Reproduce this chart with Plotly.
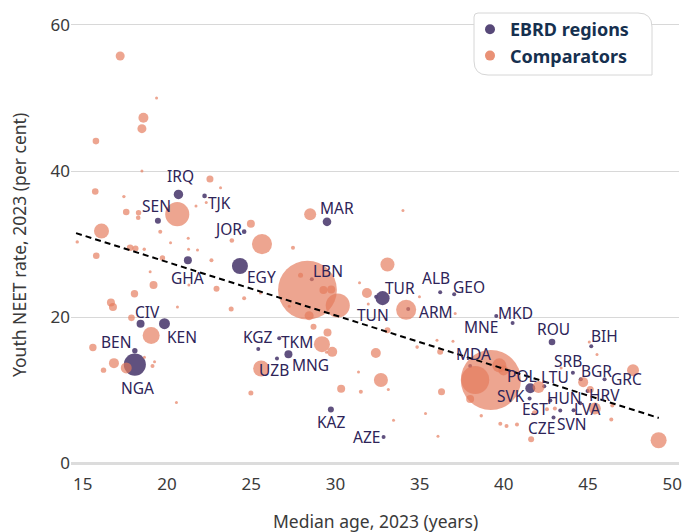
import plotly.graph_objects as go

# ---------------- data ----------------
ebrd_codes = ["IRQ", "TJK", "SEN", "JOR", "GHA", "EGY", "MAR", "LBN", "TUR", "TUN",
              "ALB", "GEO", "ARM", "MKD", "MNE", "ROU", "BIH", "MDA", "SRB", "BGR",
              "GRC", "POL", "LTU", "SVK", "EST", "CZE", "SVN", "HUN", "LVA", "HRV",
              "KGZ", "UZB", "MNG", "TKM", "KAZ", "AZE", "NGA", "BEN", "CIV", "KEN"]
ebrd_age = [20.68, 22.23, 19.46, 24.58, 21.24, 24.33, 29.5, 28.6, 32.8, 32.42,
            36.22, 37.05, 34.32, 40.52, 39.55, 42.86, 45.19, 38.0, 44.1, 44.57,
            45.98, 41.57, 42.4, 41.53, 42.76, 42.95, 43.35, 44.14, 44.54, 44.97,
            25.42, 26.53, 27.21, 26.66, 29.73, 32.86, 18.09, 18.09, 18.43, 19.85]
ebrd_neet = [36.8, 36.6, 33.2, 31.7, 27.8, 27.0, 33.05, 25.2, 22.6, 22.8,
             23.4, 23.15, 21.1, 19.2, 20.14, 16.6, 16.0, 13.3, 12.4, 11.5,
             11.5, 10.27, 10.55, 8.86, 8.6, 6.26, 7.22, 7.26, 8.22, 9.9,
             15.65, 14.34, 14.93, 17.1, 7.36, 3.6, 13.5, 15.4, 19.1, 19.1]
ebrd_pop = [34.6, 8.3, 14, 8.3, 25, 100, 29, 4.5, 77, 6.3,
            2.6, 4.5, 3.5, 2.6, 1.6, 17, 3.5, 3.5, 4.5, 6.3,
            6.3, 39, 3.5, 3.5, 1.6, 6.3, 2.6, 6.3, 2.6, 4.5,
            4.5, 4.5, 25, 1.6, 14, 6.3, 190, 11.4, 25, 47]

comp_age = [17.22, 18.60, 18.51, 15.78, 19.38, 18.51, 22.55, 23.18, 15.74, 17.44,
            17.58, 18.31, 18.29, 20.61, 21.72, 22.33, 19.60, 16.11, 14.67, 24.98,
            23.85, 25.64, 21.26, 20.21, 17.81, 18.13, 18.65, 21.28, 21.81, 15.80,
            19.73, 22.64, 19.00, 19.20, 22.94, 21.30, 18.07, 25.55, 24.58, 16.67,
            16.79, 23.81, 20.62, 17.89, 19.06, 15.60, 16.85, 17.58, 16.23, 18.66,
            19.14, 19.26, 25.59, 24.98, 20.56, 28.50, 34.01, 27.48, 28.34, 27.93,
            29.29, 29.75, 30.14, 33.09, 31.87, 34.20, 31.43, 27.26, 28.44, 28.70,
            29.53, 29.20, 29.81, 29.47, 30.34, 31.51, 32.40, 32.70, 33.09, 31.95,
            34.99, 35.35, 33.45, 33.14, 36.30, 36.03, 36.22, 34.85, 36.98, 36.09,
            31.37, 38.00, 39.23, 38.30, 39.73, 39.98, 38.66, 39.79, 40.16, 40.78,
            42.06, 42.56, 43.03, 41.62, 37.11, 44.71, 45.13, 47.67, 45.40, 46.44,
            46.38, 49.19, 45.53, 45.07, 41.82, 43.40]
comp_neet = [55.75, 47.3, 45.8, 44.1, 50.0, 40.0, 38.9, 37.7, 37.2, 36.5,
             34.4, 34.3, 33.6, 34.1, 35.2, 35.7, 31.7, 31.8, 30.3, 32.8,
             30.5, 30.0, 30.8, 30.2, 29.5, 29.4, 29.3, 29.3, 29.2, 28.4,
             28.1, 27.8, 26.2, 24.4, 23.9, 24.4, 23.2, 23.3, 22.6, 22.0,
             21.4, 21.1, 21.4, 19.9, 17.5, 15.85, 13.7, 13.05, 12.74, 14.5,
             13.3, 13.9, 12.97, 9.6, 8.3, 34.1, 34.6, 29.5, 23.7, 25.75,
             23.7, 23.8, 21.6, 27.2, 23.3, 21.0, 24.7, 21.5, 20.2, 18.7,
             17.9, 16.3, 15.25, 15.2, 10.2, 9.8, 15.1, 11.4, 18.2, 21.8,
             22.8, 6.8, 5.9, 10.1, 9.8, 16.85, 15.25, 15.9, 16.7, 3.7,
             12.5, 8.8, 11.4, 11.4, 13.4, 12.7, 6.5, 5.4, 5.1, 5.3,
             10.45, 7.4, 7.5, 3.3, 20.5, 11.1, 10.1, 12.74, 7.5, 7.9,
             6.0, 3.15, 14.9, 16.6, 6.9, 13.05]
comp_pop = [31.7, 39, 31.7, 17, 1.6, 2.6, 19.2, 2.6, 17, 4.5,
            17, 11.4, 8.3, 226, 1.6, 1.6, 6.3, 88, 4.5, 25,
            8.3, 157, 2.6, 1.0, 17, 14, 4.5, 1.6, 1.6, 17,
            11.4, 6.3, 2.6, 25, 14, 1.0, 21.5, 3.5, 6.3, 25,
            25, 9.8, 1.0, 17, 113, 21.5, 39, 47, 11.4, 3.5,
            6.3, 1.0, 100, 9.8, 1.0, 56, 1.0, 6.3, 1350, 9.8,
            25, 25, 226, 77, 39, 157, 1.0, 2.6, 31.7, 14,
            25, 100, 39, 3.5, 25, 6.3, 39, 77, 14, 3.5,
            1.0, 3.5, 1.6, 1.6, 19.2, 2.6, 14, 5.1, 1.0, 1.0,
            1.0, 25, 1410, 307, 77, 39, 4.5, 6.3, 6.3, 6.3,
            56, 6.3, 6.3, 14, 1.0, 39, 19.2, 56, 56, 6.3,
            6.3, 100, 3.5, 1.0, 9.8, 1.0]

trend_age = [14.6, 49.2]
trend_neet = [31.5, 6.2]

x_ticks = [15, 20, 25, 30, 35, 40, 45, 50]
y_ticks = [0, 20, 40, 60]

x_title = "Median age, 2023 (years)"
y_title = "Youth NEET rate, 2023 (per cent)"

# label placement offsets (pixels: right, up)
label_offsets = {
    "IRQ": (2, 18), "TJK": (15, -7), "SEN": (-1, 15), "JOR": (-16, 3), "GHA": (0, -18),
    "EGY": (22, -11), "MAR": (10, 14), "LBN": (16, 8), "TUR": (17, 10), "TUN": (-3, -18),
    "ALB": (-4, 14), "GEO": (15, 7), "ARM": (28, -3), "MKD": (3, 10), "MNE": (-15, -11),
    "ROU": (1, 13), "BIH": (13, 10), "MDA": (3, 12), "SRB": (-5, 12), "BGR": (16, 8),
    "GRC": (22, 0), "POL": (-8, 12), "LTU": (11, 9), "SVK": (-19, 3), "EST": (-15, -9),
    "CZE": (-12, -10), "SVN": (12, -13), "HUN": (-9, 12), "LVA": (7, -6), "HRV": (17, -4),
    "KGZ": (0, 12), "UZB": (-3, -12), "MNG": (22, -11), "TKM": (18, -4), "KAZ": (0, -13),
    "AZE": (-17, 0), "NGA": (3, -23), "BEN": (-19, 9), "CIV": (7, 12), "KEN": (18, -13),
}

# ---------------- styles ----------------
PURPLE = "#574878"
SALMON = "rgb(228,122,92)"
LABEL_COL = "#2e2458"
TEXT_COL = "#3a3a3a"
FONT = "Noto Sans"
SIZEREF = 0.78

W, H = 682, 532
# plot area in window pixels: x 71..679, y 14..472
ML, MR, MT, MB = 71, 3, 14, 60
PW, PH = W - ML - MR, H - MT - MB


def px(xw):
    return (xw - ML) / PW


def py(yw):
    return (H - MB - yw) / PH


fig = go.Figure()

fig.add_trace(go.Scatter(
    x=ebrd_age, y=ebrd_neet, mode="markers", showlegend=False, hoverinfo="skip",
    marker=dict(size=ebrd_pop, sizemode="area", sizeref=SIZEREF, sizemin=2,
                color=PURPLE, opacity=0.95, line=dict(width=0)),
))
fig.add_trace(go.Scatter(
    x=comp_age, y=comp_neet, mode="markers", showlegend=False, hoverinfo="skip",
    marker=dict(size=comp_pop, sizemode="area", sizeref=SIZEREF, sizemin=1.5,
                color=SALMON, opacity=0.68, line=dict(width=0)),
))
fig.add_trace(go.Scatter(
    x=trend_age, y=trend_neet, mode="lines", showlegend=False, hoverinfo="skip",
    line=dict(color="black", width=2, dash="6px,4px"),
))
# legend entries
fig.add_trace(go.Scatter(x=[None], y=[None], mode="markers", name="EBRD regions",
                         marker=dict(size=10, color=PURPLE)))
fig.add_trace(go.Scatter(x=[None], y=[None], mode="markers", name="Comparators",
                         marker=dict(size=10, color="rgb(233,145,118)")))

for code, xa, ya in zip(ebrd_codes, ebrd_age, ebrd_neet):
    dx, dy = label_offsets[code]
    fig.add_annotation(x=xa, y=ya, text=code, showarrow=False, xshift=dx, yshift=dy,
                       font=dict(family=FONT, size=15.5, color=LABEL_COL))

# axis titles
fig.add_annotation(x=px(375), y=py(521), xref="paper", yref="paper", text=x_title,
                   showarrow=False, xanchor="center", yanchor="middle",
                   font=dict(family=FONT, size=17.5, color=TEXT_COL))
fig.add_annotation(x=px(19), y=py(245), xref="paper", yref="paper", text=y_title,
                   showarrow=False, xanchor="center", yanchor="middle", textangle=-90,
                   font=dict(family=FONT, size=17.5, color=TEXT_COL))

# rounded legend box
L, R, T, B, rad = 474, 652, 13, 75, 14
path = (f"M {px(L)},{py(T + 4)} Q {px(L)},{py(T)} {px(L + 4)},{py(T)} "
        f"L {px(R - rad)},{py(T)} Q {px(R)},{py(T)} {px(R)},{py(T + rad)} "
        f"L {px(R)},{py(B)} L {px(L + rad)},{py(B)} "
        f"Q {px(L)},{py(B)} {px(L)},{py(B - rad)} Z")
fig.add_shape(type="path", path=path, xref="paper", yref="paper",
              fillcolor="white", line=dict(color="#d6d6d6", width=1), layer="above")

fig.update_layout(
    width=W, height=H,
    margin=dict(l=ML, r=MR, t=MT, b=MB, autoexpand=False),
    paper_bgcolor="white", plot_bgcolor="white",
    font=dict(family=FONT, color=TEXT_COL, size=16),
    showlegend=True,
    legend=dict(x=px(470), y=py(11), xanchor="left", yanchor="top",
                bgcolor="rgba(0,0,0,0)", borderwidth=0,
                font=dict(family=FONT, size=18, color="#16304f", weight="bold"),
                tracegroupgap=0),
    xaxis=dict(range=[14.3, 50.4], tickvals=x_ticks, showgrid=False, zeroline=False,
               showline=False, ticks="", automargin=False,
               tickfont=dict(size=17, color=TEXT_COL)),
    yaxis=dict(range=[-1.2, 61.5], tickvals=y_ticks, showgrid=True, gridcolor="#d8d8d8",
               gridwidth=1, zeroline=True, zerolinecolor="#dcdcdc", zerolinewidth=2.5,
               showline=False, ticks="", automargin=False,
               tickfont=dict(size=17, color=TEXT_COL)),
)

fig.write_html(
    "out.html",
    config={"displayModeBar": False},
    post_script="document.body.style.margin='0';document.body.style.overflow='hidden';",
)
